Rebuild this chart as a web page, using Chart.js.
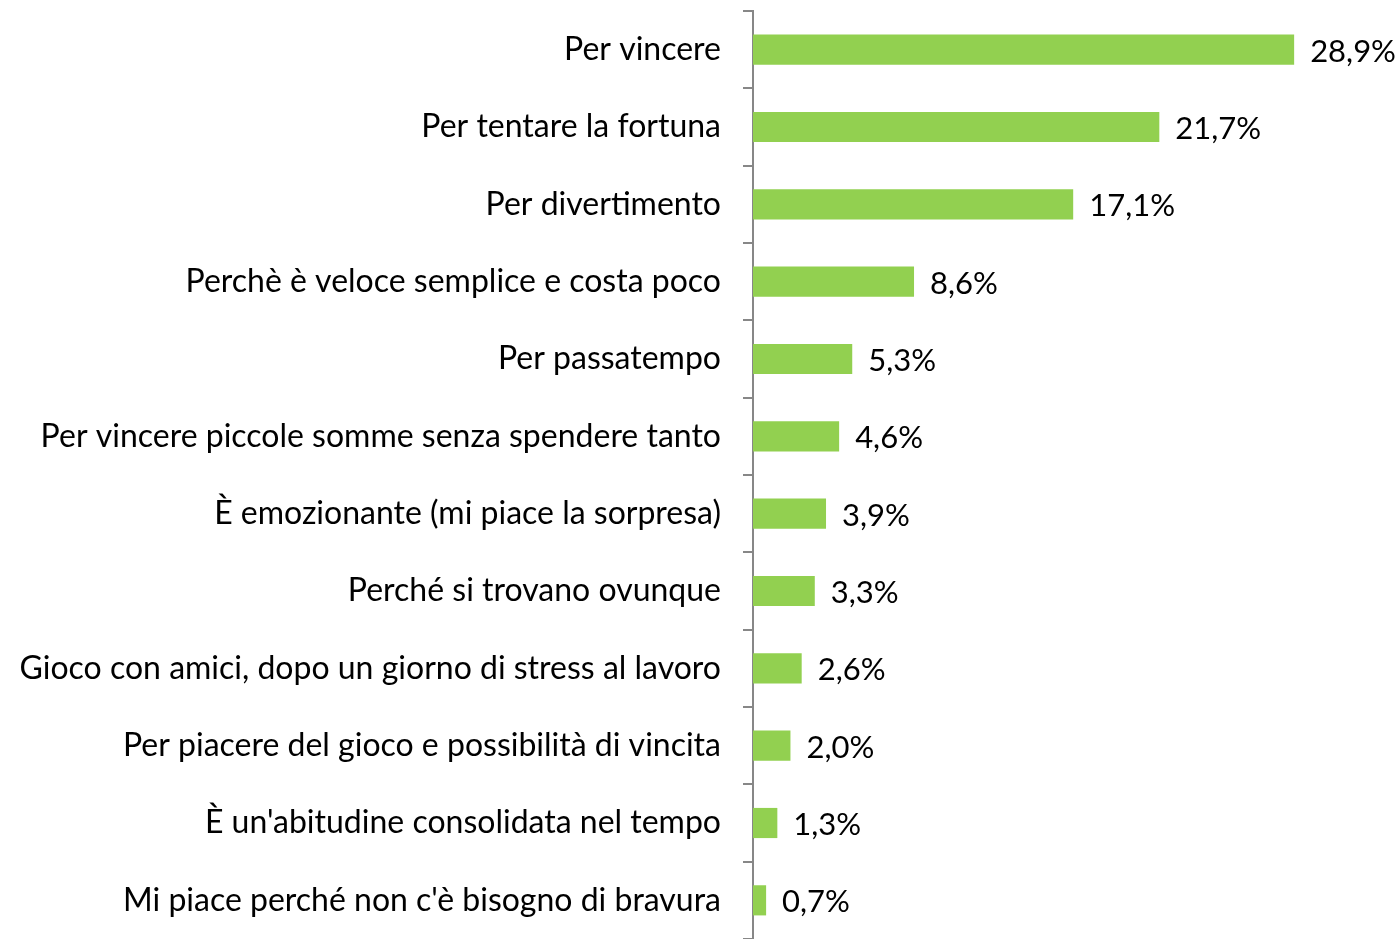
<!DOCTYPE html>
<html>
<head>
<meta charset="utf-8">
<script src="https://cdn.jsdelivr.net/npm/chart.js@4/dist/chart.umd.min.js"></script>
<style>
  html, body { margin: 0; padding: 0; background: #fff; }
  #wrap { width: 1399px; height: 939px; }
</style>
</head>
<body>
<div id="wrap"><canvas id="chart" width="1399" height="939"></canvas></div>
<script>
// categories, top to bottom
const categories = [
    'Per vincere',
    'Per tentare la fortuna',
    'Per divertimento',
    'Perchè è veloce semplice e costa poco',
    'Per passatempo',
    'Per vincere piccole somme senza spendere tanto',
    'È emozionante (mi piace la sorpresa)',
    'Perché si trovano ovunque',
    'Gioco con amici, dopo un giorno di stress al lavoro',
    'Per piacere del gioco e possibilità di vincita',
    "È un'abitudine consolidata nel tempo",
    "Mi piace perché non c'è bisogno di bravura"
];

// percentages
const values = [28.9, 21.7, 17.1, 8.6, 5.3, 4.6, 3.9, 3.3, 2.6, 2.0, 1.3, 0.7];

const FONT = 'Lato, "Open Sans", sans-serif';

// draws "28,9%" style labels just past the end of each bar
const valueLabels = {
    id: 'valueLabels',
    afterDatasetsDraw(chart) {
        const ctx = chart.ctx;
        const meta = chart.getDatasetMeta(0);
        ctx.save();
        ctx.font = '31px ' + FONT;
        ctx.fillStyle = '#000';
        ctx.textBaseline = 'middle';
        ctx.textAlign = 'left';
        meta.data.forEach((bar, i) => {
            const txt = values[i].toFixed(1).replace('.', ',') + '%';
            ctx.fillText(txt, bar.x + 16, bar.y + 2);
        });
        ctx.restore();
    }
};

new Chart(document.getElementById('chart'), {
    type: 'bar',
    data: {
        labels: categories,
        datasets: [{
            data: values,
            backgroundColor: '#92d050',
            borderWidth: 0,
            barPercentage: 0.39,
            categoryPercentage: 1.0
        }]
    },
    options: {
        indexAxis: 'y',
        responsive: false,
        animation: false,
        layout: { padding: { top: 11, right: 0, bottom: -2, left: 0 } },
        plugins: {
            legend: { display: false },
            tooltip: { enabled: false }
        },
        scales: {
            x: {
                display: false,
                min: 0,
                max: 34.5
            },
            y: {
                afterFit(scale) {
                    scale.width = 753;
                    scale.paddingTop = 0;
                    scale.paddingBottom = 0;
                },
                border: { display: true, color: '#878787', width: 2 },
                grid: {
                    drawOnChartArea: false,
                    drawTicks: true,
                    tickLength: 10,
                    color: '#878787',
                    lineWidth: 2,
                    offset: true
                },
                ticks: {
                    color: '#000',
                    padding: 22,
                    font: { family: FONT, size: 32 }
                }
            }
        }
    },
    plugins: [valueLabels]
});
</script>
</body>
</html>
